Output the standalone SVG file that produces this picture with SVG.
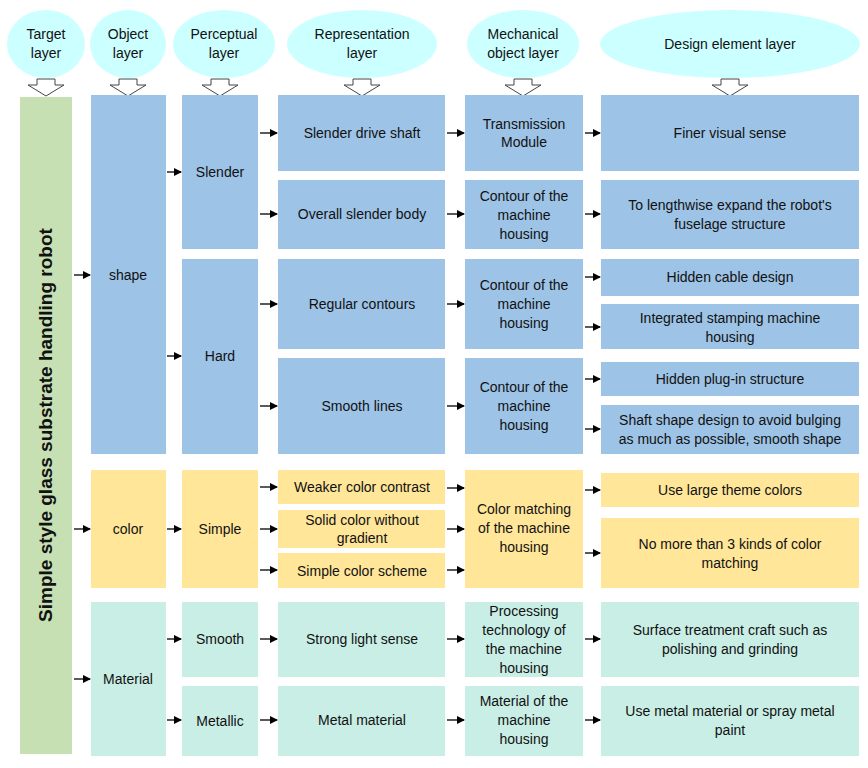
<svg xmlns="http://www.w3.org/2000/svg" width="868" height="768" viewBox="0 0 868 768">
<style>
text{font-family:"Liberation Sans",Arial,sans-serif;font-size:14px;fill:#111;text-anchor:middle}
.e{fill:#ccffff}.b{fill:#9dc3e6}.y{fill:#ffe699}.t{fill:#c9eee6}.g{fill:#c6e0b4}
.h{fill:#fff;stroke:#444;stroke-width:1}
.c line{stroke:#000;stroke-width:1.3;marker-end:url(#a)}
</style>
<defs><marker id="a" markerWidth="8" markerHeight="8" refX="7" refY="4" orient="auto" markerUnits="userSpaceOnUse"><path d="M0,0L8,4L0,8z" fill="#000"/></marker>
<path id="ha" d="M-9,0h18v6h9l-18,11l-18,-11h9z"/></defs>
<rect width="868" height="768" fill="#fff"/>
<g id="headers">
<ellipse class="e" cx="46" cy="44" rx="39" ry="34"/><text x="46" y="39">Target</text><text x="46" y="58">layer</text>
<ellipse class="e" cx="128" cy="44" rx="38" ry="34"/><text x="128" y="39">Object</text><text x="128" y="58">layer</text>
<ellipse class="e" cx="224" cy="44" rx="51" ry="34"/><text x="224" y="39">Perceptual</text><text x="224" y="58">layer</text>
<ellipse class="e" cx="362" cy="44" rx="75" ry="34"/><text x="362" y="39">Representation</text><text x="362" y="58">layer</text>
<ellipse class="e" cx="523" cy="44" rx="56" ry="34"/><text x="523" y="39">Mechanical</text><text x="523" y="58">object layer</text>
<ellipse class="e" cx="730" cy="44" rx="130" ry="34"/><text x="730" y="49">Design element layer</text>
<use href="#ha" class="h" x="46" y="79"/><use href="#ha" class="h" x="128" y="79"/><use href="#ha" class="h" x="220" y="79"/><use href="#ha" class="h" x="362" y="79"/><use href="#ha" class="h" x="523" y="79"/><use href="#ha" class="h" x="730" y="79"/>
</g>
<g id="target"><rect class="g" x="20" y="97" width="52" height="657"/><text transform="translate(52,425) rotate(-90)" style="font-size:19px;font-weight:bold">Simple style glass substrate handling robot</text></g>
<g id="object">
<rect class="b" x="91" y="95" width="75" height="359"/><text x="128" y="280">shape</text>
<rect class="y" x="91" y="470" width="75" height="118"/><text x="128" y="534">color</text>
<rect class="t" x="91" y="602" width="75" height="154"/><text x="128" y="684">Material</text>
</g>
<g id="perceptual">
<rect class="b" x="182" y="95" width="76" height="154"/><text x="220" y="177">Slender</text>
<rect class="b" x="182" y="259" width="76" height="195"/><text x="220" y="361">Hard</text>
<rect class="y" x="182" y="470" width="76" height="118"/><text x="220" y="534">Simple</text>
<rect class="t" x="182" y="602" width="76" height="75"/><text x="220" y="644">Smooth</text>
<rect class="t" x="182" y="686" width="76" height="70"/><text x="220" y="726">Metallic</text>
</g>
<g id="representation">
<rect class="b" x="278" y="95" width="167" height="76"/><text x="362" y="138">Slender drive shaft</text>
<rect class="b" x="278" y="180" width="167" height="69"/><text x="362" y="219">Overall slender body</text>
<rect class="b" x="278" y="259" width="167" height="90"/><text x="362" y="309">Regular contours</text>
<rect class="b" x="278" y="358" width="167" height="96"/><text x="362" y="411">Smooth lines</text>
<rect class="y" x="278" y="470" width="167" height="34"/><text x="362" y="492">Weaker color contrast</text>
<rect class="y" x="278" y="510" width="167" height="38"/><text x="362" y="525">Solid color without</text><text x="362" y="543">gradient</text>
<rect class="y" x="278" y="553" width="167" height="35"/><text x="362" y="576">Simple color scheme</text>
<rect class="t" x="278" y="602" width="167" height="75"/><text x="362" y="644">Strong light sense</text>
<rect class="t" x="278" y="686" width="167" height="70"/><text x="362" y="725">Metal material</text>
</g>
<g id="mechanical">
<rect class="b" x="465" y="95" width="118" height="76"/><text x="524" y="129">Transmission</text><text x="524" y="147">Module</text>
<rect class="b" x="465" y="180" width="118" height="69"/><text x="524" y="201">Contour of the</text><text x="524" y="220">machine</text><text x="524" y="239">housing</text>
<rect class="b" x="465" y="259" width="118" height="90"/><text x="524" y="290">Contour of the</text><text x="524" y="309">machine</text><text x="524" y="328">housing</text>
<rect class="b" x="465" y="358" width="118" height="96"/><text x="524" y="392">Contour of the</text><text x="524" y="411">machine</text><text x="524" y="430">housing</text>
<rect class="y" x="465" y="470" width="118" height="118"/><text x="524" y="514">Color matching</text><text x="524" y="533">of the machine</text><text x="524" y="552">housing</text>
<rect class="t" x="465" y="602" width="118" height="75"/><text x="524" y="616">Processing</text><text x="524" y="635">technology of</text><text x="524" y="654">the machine</text><text x="524" y="673">housing</text>
<rect class="t" x="465" y="686" width="118" height="70"/><text x="524" y="706">Material of the</text><text x="524" y="725">machine</text><text x="524" y="744">housing</text>
</g>
<g id="design">
<rect class="b" x="601" y="95" width="258" height="76"/><text x="730" y="138">Finer visual sense</text>
<rect class="b" x="601" y="180" width="258" height="69"/><text x="730" y="210">To lengthwise expand the robot's</text><text x="730" y="229">fuselage structure</text>
<rect class="b" x="601" y="259" width="258" height="37"/><text x="730" y="282">Hidden cable design</text>
<rect class="b" x="601" y="304" width="258" height="45"/><text x="730" y="323">Integrated stamping machine</text><text x="730" y="342">housing</text>
<rect class="b" x="601" y="362" width="258" height="34"/><text x="730" y="384">Hidden plug-in structure</text>
<rect class="b" x="601" y="405" width="258" height="49"/><text x="730" y="425">Shaft shape design to avoid bulging</text><text x="730" y="444">as much as possible, smooth shape</text>
<rect class="y" x="601" y="473" width="258" height="34"/><text x="730" y="495">Use large theme colors</text>
<rect class="y" x="601" y="518" width="258" height="70"/><text x="730" y="549">No more than 3 kinds of color</text><text x="730" y="568">matching</text>
<rect class="t" x="601" y="602" width="258" height="75"/><text x="730" y="635">Surface treatment craft such as</text><text x="730" y="654">polishing and grinding</text>
<rect class="t" x="601" y="686" width="258" height="70"/><text x="730" y="716">Use metal material or spray metal</text><text x="730" y="735">paint</text>
</g>
<g class="c" id="connectors">
<line x1="74" y1="275" x2="90" y2="275"/><line x1="74" y1="529" x2="90" y2="529"/><line x1="74" y1="679" x2="90" y2="679"/>
<line x1="167" y1="172" x2="181" y2="172"/><line x1="167" y1="356" x2="181" y2="356"/><line x1="167" y1="529" x2="181" y2="529"/><line x1="167" y1="639" x2="181" y2="639"/><line x1="167" y1="720" x2="181" y2="720"/>
<line x1="260" y1="133" x2="277" y2="133"/><line x1="260" y1="214" x2="277" y2="214"/><line x1="260" y1="304" x2="277" y2="304"/><line x1="260" y1="406" x2="277" y2="406"/>
<line x1="260" y1="487" x2="277" y2="487"/><line x1="260" y1="529" x2="277" y2="529"/><line x1="260" y1="570" x2="277" y2="570"/>
<line x1="260" y1="639" x2="277" y2="639"/><line x1="260" y1="720" x2="277" y2="720"/>
<line x1="447" y1="133" x2="464" y2="133"/><line x1="447" y1="214" x2="464" y2="214"/><line x1="447" y1="304" x2="464" y2="304"/><line x1="447" y1="406" x2="464" y2="406"/>
<line x1="447" y1="488" x2="464" y2="488"/><line x1="447" y1="529" x2="464" y2="529"/><line x1="447" y1="570" x2="464" y2="570"/>
<line x1="447" y1="639" x2="464" y2="639"/><line x1="447" y1="720" x2="464" y2="720"/>
<line x1="585" y1="133" x2="600" y2="133"/><line x1="585" y1="214" x2="600" y2="214"/><line x1="585" y1="277" x2="600" y2="277"/><line x1="585" y1="327" x2="600" y2="327"/><line x1="585" y1="379" x2="600" y2="379"/><line x1="585" y1="429" x2="600" y2="429"/>
<line x1="585" y1="490" x2="600" y2="490"/><line x1="585" y1="553" x2="600" y2="553"/>
<line x1="585" y1="639" x2="600" y2="639"/><line x1="585" y1="720" x2="600" y2="720"/>
</g>
</svg>
